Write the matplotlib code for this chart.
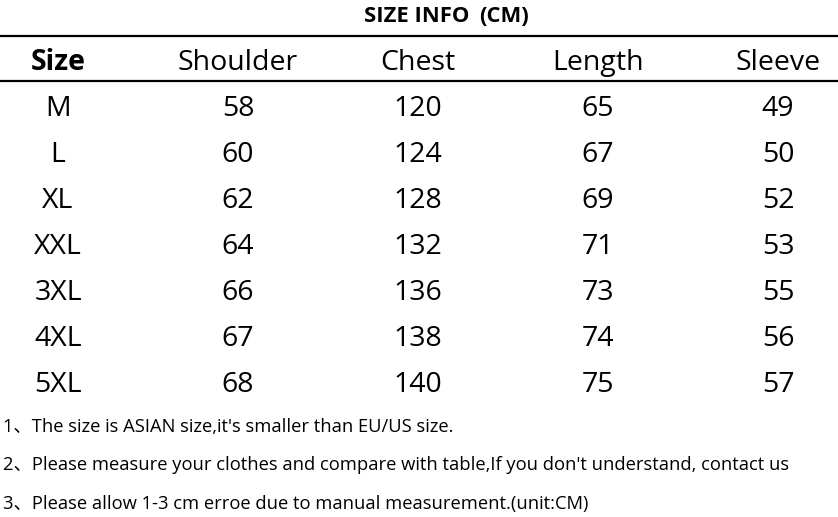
import matplotlib
matplotlib.use("Agg")
import matplotlib.pyplot as plt

title_main = "SIZE INFO"
title_unit = "(CM)"
columns = ["Size", "Shoulder", "Chest", "Length", "Sleeve"]
sizes = ["M", "L", "XL", "XXL", "3XL", "4XL", "5XL"]
shoulder = [58, 60, 62, 64, 66, 67, 68]
chest = [120, 124, 128, 132, 136, 138, 140]
length = [65, 67, 69, 71, 73, 74, 75]
sleeve = [49, 50, 52, 53, 55, 56, 57]
notes = [
    "1、The size is ASIAN size,it's smaller than EU/US size.",
    "2、Please measure your clothes and compare with table,If you don't understand, contact us",
    "3、Please allow 1-3 cm erroe due to manual measurement.(unit:CM)",
]

plt.rcParams['font.family'] = ['Open Sans', 'Noto Sans CJK SC', 'DejaVu Sans']

W, H = 838, 517
fig = plt.figure(figsize=(W / 100, H / 100), dpi=100)
ax = fig.add_axes([0, 0, 1, 1])
ax.set_xlim(0, W)
ax.set_ylim(H, 0)
ax.axis('off')

col_x0, col_dx = 58, 180
row_y0, row_dy = 116.5, 45.9

ax.text(469, 21.7, title_main, ha='right', va='baseline', fontsize=15.8,
        fontweight='bold', color='black')
ax.text(479, 21.7, title_unit, ha='left', va='baseline', fontsize=15.8,
        fontweight='bold', color='black')

ax.plot([0, W], [36, 36], color='black', lw=1.6, solid_capstyle='butt')
ax.plot([0, W], [81, 81], color='black', lw=1.6, solid_capstyle='butt')

for i, c in enumerate(columns):
    ax.text(col_x0 + i * col_dx, 70, c, ha='center', va='baseline',
            fontsize=20.5, fontweight='bold' if i == 0 else 'normal', color='black')

table_cols = [sizes, shoulder, chest, length, sleeve]
for j, col in enumerate(table_cols):
    for i, v in enumerate(col):
        ax.text(col_x0 + j * col_dx, row_y0 + i * row_dy, str(v), ha='center',
                va='baseline', fontsize=20.5, color='black')

note_y = [431.5, 470, 509]
for y, n in zip(note_y, notes):
    ax.text(3, y, n, ha='left', va='baseline', fontsize=13.2, color='black')

fig.savefig("out.png", dpi=100, facecolor='white')
